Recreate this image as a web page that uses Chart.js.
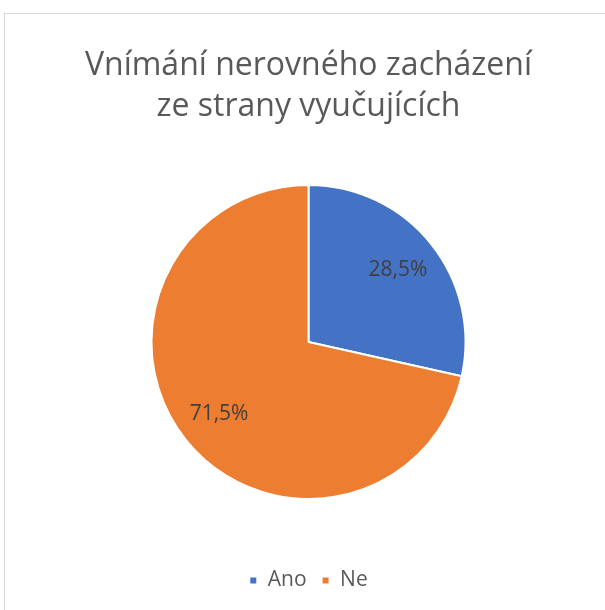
<!DOCTYPE html>
<html>
<head>
<meta charset="utf-8">
<script src="https://cdn.jsdelivr.net/npm/chart.js@4"></script>
<style>
  body { margin: 0; background: #fff; }
  #frame { position: absolute; left: 4px; top: 13px; width: 700px; height: 700px; border: 1px solid #d9d9d9; }
  #pieChart { position: absolute; left: 0; top: 0; }
</style>
</head>
<body>
<div id="frame"></div>
<canvas id="pieChart" width="605" height="610"></canvas>
<script>
// Pie chart: perception of unequal treatment by teachers

const categories = ['Ano', 'Ne'];
const shares = [28.5, 71.5];
const sliceColors = ['#4472C4', '#ED7D31'];
const titleLines = ['Vnímání nerovného zacházení', 'ze strany vyučujících'];

const fontFamily = '"Open Sans", "Noto Sans", sans-serif';

// percentage labels inside slices, written with a comma
const sliceLabels = {
  id: 'sliceLabels',
  afterDatasetsDraw(chart) {
    const ctx = chart.ctx;
    const meta = chart.getDatasetMeta(0);
    ctx.save();
    ctx.font = '21px ' + fontFamily;
    ctx.fillStyle = '#404040';
    ctx.textAlign = 'center';
    ctx.textBaseline = 'middle';
    meta.data.forEach((arc, i) => {
      const p = arc.getProps(['x', 'y', 'startAngle', 'endAngle', 'outerRadius'], true);
      const mid = (p.startAngle + p.endAngle) / 2;
      const r = p.outerRadius * 0.73;
      const label = shares[i].toFixed(1).replace('.', ',') + '%';
      ctx.fillText(label, p.x + Math.cos(mid) * r, p.y + Math.sin(mid) * r);
    });
    ctx.restore();
  }
};

new Chart(document.getElementById('pieChart'), {
  type: 'pie',
  data: {
    labels: categories,
    datasets: [{
      data: shares,
      backgroundColor: sliceColors,
      borderColor: '#ffffff',
      borderWidth: 2,
      radius: 157,
    }]
  },
  options: {
    responsive: false,
    animation: false,
    layout: { padding: { left: 12, right: 0, top: 45, bottom: 9 } },
    plugins: {
      tooltip: { enabled: false },
      title: {
        display: true,
        text: titleLines,
        color: '#595959',
        font: { family: fontFamily, size: 32, weight: 'normal', lineHeight: 1.28 },
        padding: { top: 0, bottom: 2 }
      },
      legend: {
        position: 'bottom',
        labels: {
          color: '#595959',
          font: { family: fontFamily, size: 21 },
          boxWidth: 8,
          boxHeight: 8,
          padding: 15
        }
      }
    }
  },
  plugins: [sliceLabels]
});
</script>
</body>
</html>
